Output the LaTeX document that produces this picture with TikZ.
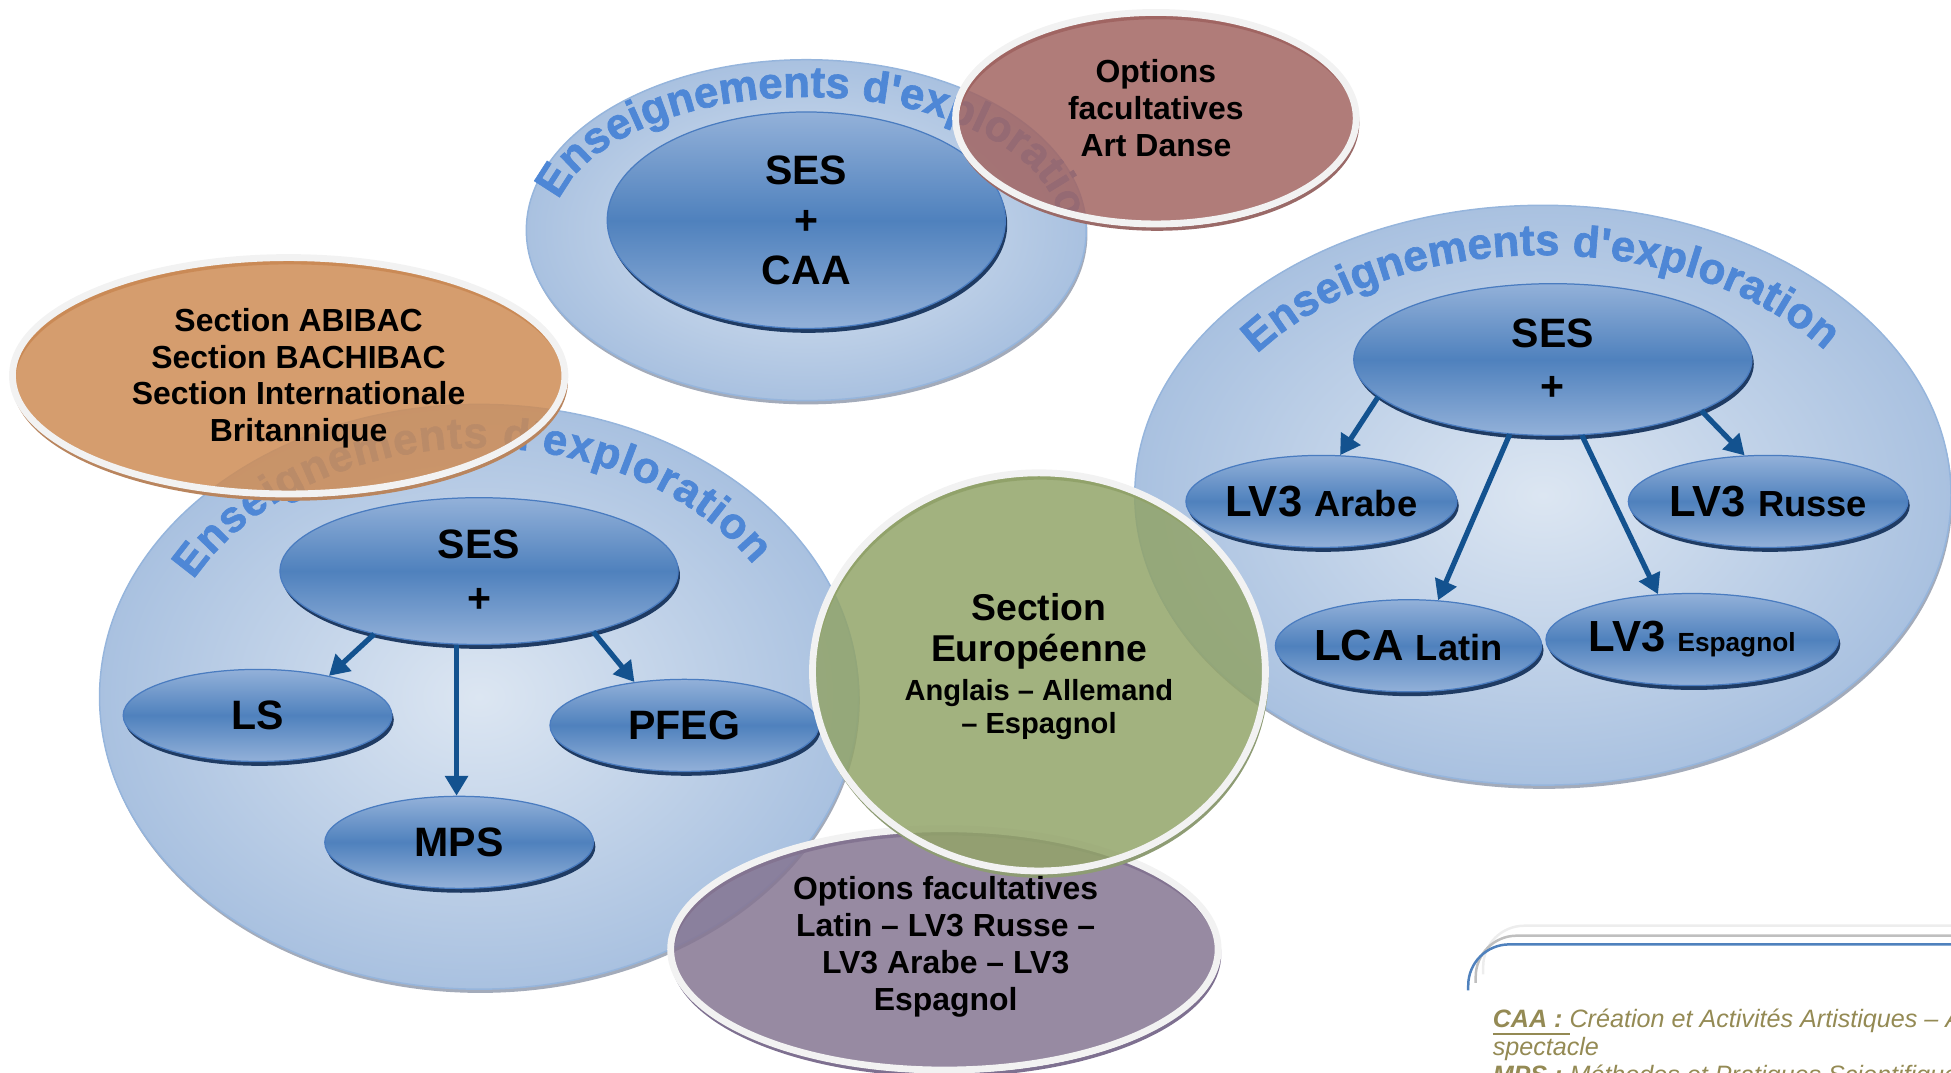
\documentclass[tikz,border=0pt]{standalone}
\usepackage{fontspec}
\setmainfont{Liberation Sans}
\newfontfamily\ringfam{Liberation Sans}[Ligatures=TeXOff, BoldFeatures={FakeBold=1.5}]
\usetikzlibrary{shapes.geometric,arrows.meta,decorations.text,shadows}
\definecolor{ringin}{HTML}{DCE6F2}
\definecolor{ringout}{HTML}{A9C1E0}
\definecolor{ringedge}{HTML}{96B5DC}
\definecolor{ringshadow}{HTML}{A3ABBA}
\definecolor{ringtxt}{HTML}{4E87D6}
\definecolor{bA}{HTML}{93B1D9}
\definecolor{bB}{HTML}{4F81BD}
\definecolor{innerEdge}{HTML}{4A7CC0}
\definecolor{bShadow}{HTML}{1F3B63}
\definecolor{arrowc}{HTML}{13528F}
\definecolor{orFill}{HTML}{CE8C55}
\definecolor{redFill}{HTML}{A26562}
\definecolor{grFill}{HTML}{92A469}
\definecolor{puFill}{HTML}{857592}
\definecolor{orShadow}{HTML}{B9855E}
\definecolor{redShadow}{HTML}{9A6A68}
\definecolor{grShadow}{HTML}{8E9C74}
\definecolor{puShadow}{HTML}{7E7090}
\definecolor{rim}{HTML}{F2F2F2}
\definecolor{legc}{HTML}{948A54}
\definecolor{legblue}{HTML}{4F81BD}
\definecolor{leggrey}{HTML}{BFBFBF}
\definecolor{leglight}{HTML}{EDEDED}
\newcommand\myfSES{\fontsize{9.39}{12.2}\selectfont\bfseries}
\newcommand\myfSEST{\fontsize{9.39}{11.4}\selectfont\bfseries}
\newcommand\myfBig{\fontsize{9.96}{11}\selectfont\bfseries}
\newcommand\myfMid{\fontsize{8.3}{9}\selectfont\bfseries}
\newcommand\myfSmall{\fontsize{6}{7}\selectfont\bfseries}
\newcommand\myfOv{\fontsize{7.3}{8.4}\selectfont\bfseries}
\newcommand\myfRing{\ringfam\fontsize{10}{10}\selectfont\bfseries\color{ringtxt}}
\newcommand\myfLeg{\fontsize{5.75}{6.3}\selectfont\itshape}
\begin{document}
\begin{tikzpicture}[x=0.1mm,y=0.1mm,
 bigell/.style={ellipse, inner sep=0pt, draw=ringedge, line width=0.12mm, inner color=ringin, outer color=ringout, general shadow={fill=ringshadow, shadow yshift=-0.3mm, shadow xshift=0.1mm}},
 innerell/.style={ellipse, inner sep=0pt, draw=innerEdge, line width=0.1mm, top color=bA, bottom color=bA, middle color=bB, general shadow={fill=bShadow, shadow yshift=-0.35mm, shadow xshift=0.15mm}, align=center, text=black},
 arr/.style={draw=arrowc, line width=0.42mm, -{Triangle[length=1.6mm,width=1.8mm]}},
 ovl/.style={ellipse, inner sep=0pt, draw=rim, line width=0.55mm, fill opacity=0.85},
 ovshadow/.style={line width=0.3mm},
 ovtxt/.style={align=center, font=\myfOv, text=black},
 ringtext/.style={decorate, decoration={text along path, text align={fit to path}, text={|\myfRing|Enseignements d'exploration}}},
 legtxt/.style={anchor=base west, font=\myfLeg, text=legc, inner sep=0pt},
]
\useasboundingbox (0,0) rectangle (1568,862);
\clip (0,0) rectangle (1568,862);

% big exploration ellipses
\node[bigell, minimum width=61mm, minimum height=47mm] (exL) at (385,302) {};
\node[bigell, minimum width=45mm, minimum height=27.4mm] (exT) at (648,677) {};
\node[bigell, minimum width=65.6mm, minimum height=46.6mm] (exR) at (1240,464) {};

% ring texts
\path[ringtext] (exL.center) ++(152:26mm and 20mm) arc[start angle=152, end angle=32, x radius=26mm, y radius=20mm];
\path[ringtext] (exT.center) ++(167:20.4mm and 10.7mm) arc[start angle=167, end angle=8, x radius=20.4mm, y radius=10.7mm];
\path[ringtext] (exR.center) ++(144:28.4mm and 19.3mm) arc[start angle=144, end angle=37, x radius=28.4mm, y radius=19.3mm];

% inner nodes
\node[innerell, minimum width=32mm, minimum height=17.4mm, font=\myfSEST] (sesT) at (648,685) {SES\\+\\CAA};
\node[innerell, minimum width=32mm, minimum height=11.8mm, font=\myfSES] (sesL) at (385,403) {SES\\+};
\node[innerell, minimum width=21.6mm, minimum height=7.4mm, font=\myfSES] (ls) at (207,287) {LS};
\node[innerell, minimum width=21.6mm, minimum height=7.4mm, font=\myfSES] (mps) at (369,185) {MPS};
\node[innerell, minimum width=21.6mm, minimum height=7.4mm, font=\myfSES] (pfeg) at (550,279) {PFEG};
\node[innerell, minimum width=32mm, minimum height=12.2mm, font=\myfSES] (sesR) at (1248,573) {SES\\+};
\node[innerell, minimum width=21.4mm, minimum height=7.4mm, font=\myfBig] (arabe) at (1062,459) {LV3 {\myfMid Arabe}};
\node[innerell, minimum width=22.2mm, minimum height=7.4mm, font=\myfBig] (russe) at (1421,459) {LV3 {\myfMid Russe}};
\node[innerell, minimum width=21mm, minimum height=7.4mm, font=\myfBig] (latin) at (1132,343) {LCA {\myfMid Latin}};
\node[innerell, minimum width=22.4mm, minimum height=7.4mm, font=\myfBig] (espagnol) at (1360,348) {LV3 {\myfSmall Espagnol}};

% arrows
\draw[arr] (sesL.211) -- (ls.29);
\draw[arr] (sesL.253) -- (sesL.253 |- mps.north);
\draw[arr] (sesL.332) -- (pfeg.139);
\draw[arr] (sesR.192) -- (arabe.68);
\draw[arr] (sesR.240) -- (latin.57);
\draw[arr] (sesR.291) -- (espagnol.127);
\draw[arr] (sesR.341) -- (russe.117);

% translucent overlays
\draw[ovshadow, draw=orShadow] (233,556) ellipse [x radius=22.2mm, y radius=9.5mm];
\node[ovl, fill=orFill, minimum width=44.4mm, minimum height=19mm] (orange) at (232,560) {};
\draw[ovshadow, draw=redShadow] (930,763) ellipse [x radius=16.1mm, y radius=8.5mm];
\node[ovl, fill=redFill, minimum width=32.2mm, minimum height=17mm] (red) at (929,767) {};
\draw[ovshadow, draw=puShadow] (760,95) ellipse [x radius=22mm, y radius=9.7mm];
\node[ovl, fill=puFill, minimum width=44mm, minimum height=19.4mm] (purple) at (759,99) {};
\draw[ovshadow, draw=grShadow] (836,318) ellipse [x radius=18.2mm, y radius=16mm];
\node[ovl, fill=grFill, minimum width=36.4mm, minimum height=32mm] (green) at (835,322) {};

% overlay texts
\node[ovtxt] (orangeT) at (240,558) {Section ABIBAC\\Section BACHIBAC\\Section Internationale\\Britannique};
\node[ovtxt] (redT) at (929,775) {Options\\facultatives\\Art Danse};
\node[ovtxt] (purpleT) at (760,101) {Options facultatives\\Latin -- LV3 Russe --\\LV3 Arabe -- LV3\\Espagnol};
\node[align=center, text=black, font=\fontsize{6.66}{7.7}\selectfont\bfseries] (greenT) at (835,326)
 {{\fontsize{8.54}{9.4}\selectfont Section}\\[1.5pt]{\fontsize{8.54}{9.4}\selectfont Européenne}\\[1.2pt]Anglais -- Allemand\\-- Espagnol};

% legend
\coordinate (l1s) at (1180,66); \coordinate (l1c) at (1180,103); \coordinate (l1e) at (1570,103);
\coordinate (l2s) at (1186,72); \coordinate (l2c) at (1186,110); \coordinate (l2e) at (1570,110);
\coordinate (l3s) at (1192,79); \coordinate (l3c) at (1192,118); \coordinate (l3e) at (1570,118);
\draw[leglight, line width=0.2mm, rounded corners=3.3mm] (l3s) -- (l3c) -- (l3e);
\draw[leggrey, line width=0.2mm, rounded corners=3.3mm] (l2s) -- (l2c) -- (l2e);
\draw[legblue, line width=0.2mm, rounded corners=3.3mm] (l1s) -- (l1c) -- (l1e);
\node[legtxt] (legA) at (1199,36) {\underline{\bfseries CAA :\ }Création et Activités Artistiques -- Arts du};
\node[legtxt] (legB) at (1199,14) {spectacle};
\node[legtxt] (legC) at (1199,-9) {\underline{\bfseries MPS :\ }Méthodes et Pratiques Scientifiques};
\end{tikzpicture}
\end{document}
